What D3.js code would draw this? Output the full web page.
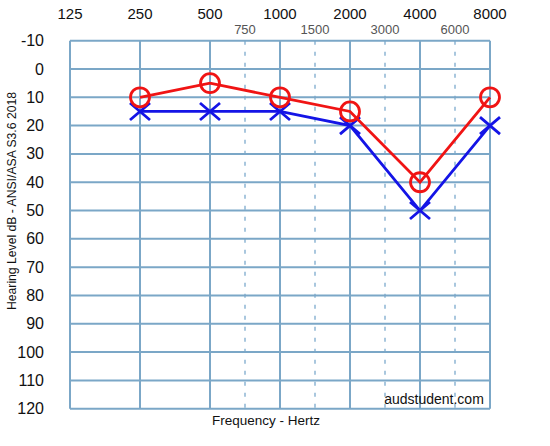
<!DOCTYPE html>
<html><head><meta charset="utf-8">
<script src="https://cdn.jsdelivr.net/npm/d3@7"></script>
<style>body{margin:0;background:#fff}svg{display:block}</style>
</head><body>
<script>
const freqs = [125, 250, 500, 1000, 2000, 4000, 8000];
const interFreqs = [750, 1500, 3000, 6000];
const dbTicks = [-10, 0, 10, 20, 30, 40, 50, 60, 70, 80, 90, 100, 110, 120];
const testFreqs = [250, 500, 1000, 2000, 4000, 8000];
const rightEar = [10, 5, 10, 15, 40, 10];
const leftEar = [15, 15, 15, 20, 50, 20];

const W = 550, H = 446;
const svg = d3.select("body").append("svg").attr("width", W).attr("height", H);
const font = "'Liberation Sans', Arial, sans-serif";

const x = d3.scaleLog().base(2).domain([125, 8000]).range([70, 490]);
const y = d3.scaleLinear().domain([-10, 120]).range([40.7, 408.7]);
// inter-octave frequencies are drawn at the half-octave midpoint
const xi = f => x(f / 1.5 * Math.SQRT2);

const grid = "#7ba7c7";
svg.append("g").selectAll("line").data(interFreqs).join("line")
  .attr("x1", xi).attr("x2", xi).attr("y1", y(-10)).attr("y2", y(120))
  .attr("stroke", "#a9c7de").attr("stroke-width", 2).attr("stroke-dasharray", "4,7");
svg.append("g").selectAll("line").data(dbTicks).join("line")
  .attr("x1", x(125)).attr("x2", x(8000)).attr("y1", y).attr("y2", y)
  .attr("stroke", grid).attr("stroke-width", 2);
svg.append("g").selectAll("line").data(freqs).join("line")
  .attr("x1", x).attr("x2", x).attr("y1", y(-10)).attr("y2", y(120))
  .attr("stroke", grid).attr("stroke-width", 2);

svg.append("g").selectAll("text").data(freqs).join("text")
  .attr("x", x).attr("y", 19).attr("text-anchor", "middle")
  .attr("font-family", font).attr("font-size", 15).attr("fill", "#111")
  .text(d => d);
svg.append("g").selectAll("text").data(interFreqs).join("text")
  .attr("x", xi).attr("y", 33.5).attr("text-anchor", "middle")
  .attr("font-family", font).attr("font-size", 13).attr("fill", "#555")
  .text(d => d);
svg.append("g").selectAll("text").data(dbTicks).join("text")
  .attr("x", 44).attr("y", d => y(d) + 5.5).attr("text-anchor", "end")
  .attr("font-family", font).attr("font-size", 16).attr("fill", "#111")
  .text(d => d);

svg.append("text").attr("transform", "translate(16,201) rotate(-90)")
  .attr("text-anchor", "middle").attr("font-family", font).attr("font-size", 12)
  .attr("textLength", 218).attr("lengthAdjust", "spacingAndGlyphs").attr("fill", "#111")
  .text("Hearing Level dB - ANSI/ASA S3.6 2018");

svg.append("text").attr("x", 266).attr("y", 425).attr("text-anchor", "middle")
  .attr("font-family", font).attr("font-size", 13.5).attr("fill", "#111")
  .text("Frequency - Hertz");
svg.append("text").attr("x", 434).attr("y", 404).attr("text-anchor", "middle")
  .attr("font-family", font).attr("font-size", 14).attr("fill", "#111")
  .text("audstudent.com");

const line = d3.line().x(d => x(d[0])).y(d => y(d[1]));
const rd = testFreqs.map((f, i) => [f, rightEar[i]]);
const ld = testFreqs.map((f, i) => [f, leftEar[i]]);
const red = "#f01414", blue = "#1414e6";

svg.append("path").attr("d", line(ld)).attr("fill", "none").attr("stroke", blue).attr("stroke-width", 2.8);
svg.append("g").selectAll("path").data(ld).join("path")
  .attr("d", d => { const cx = x(d[0]), cy = y(d[1]);
    return `M${cx-10},${cy-8.5}L${cx+10},${cy+8.5}M${cx-10},${cy+8.5}L${cx+10},${cy-8.5}`; })
  .attr("stroke", blue).attr("stroke-width", 2.8).attr("fill", "none");

svg.append("path").attr("d", line(rd)).attr("fill", "none").attr("stroke", red).attr("stroke-width", 2.8);
svg.append("g").selectAll("circle").data(rd).join("circle")
  .attr("cx", d => x(d[0])).attr("cy", d => y(d[1])).attr("r", 9.5)
  .attr("fill", "none").attr("stroke", red).attr("stroke-width", 2.8);
</script>
</body></html>
